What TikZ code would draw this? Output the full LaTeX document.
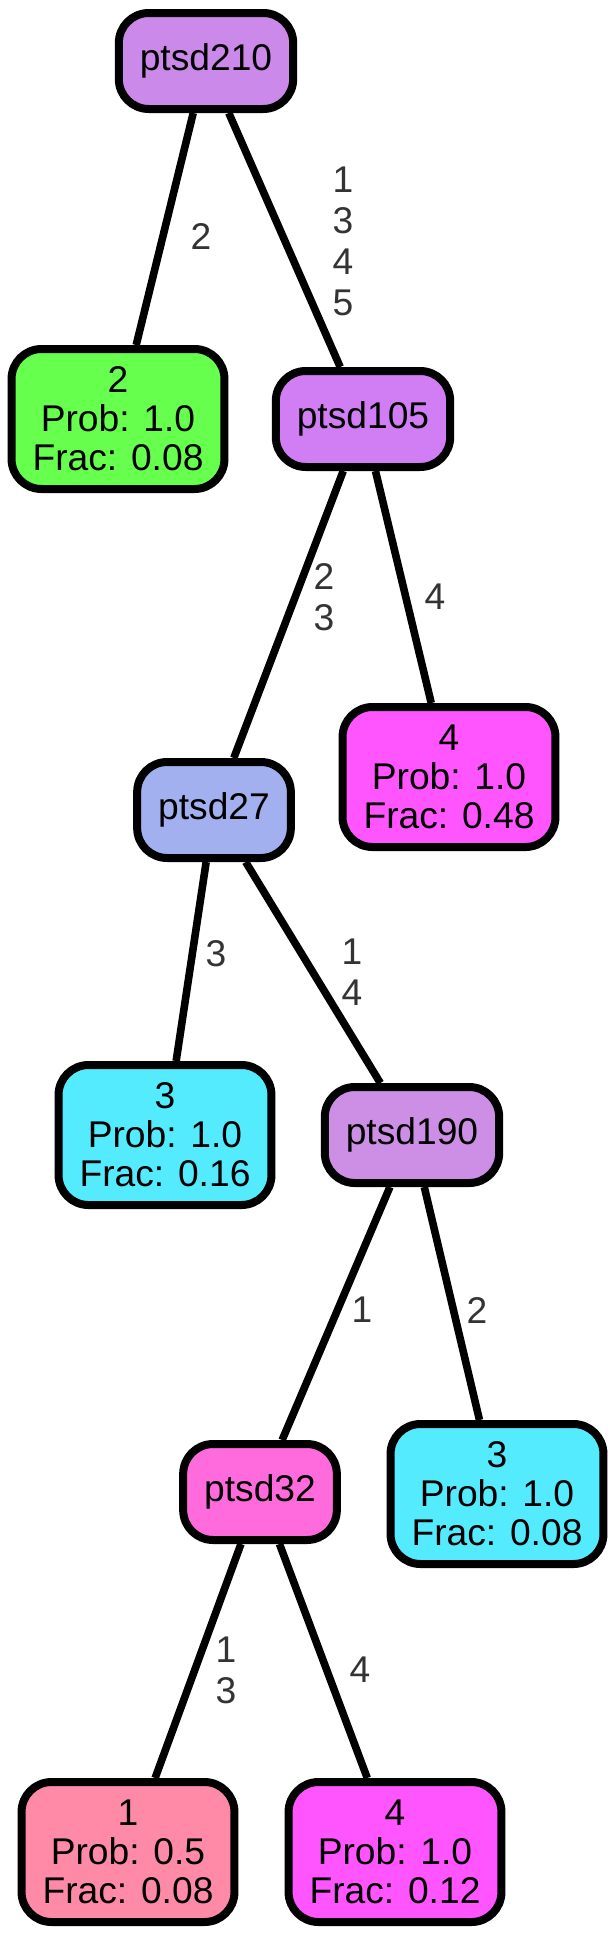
\documentclass[tikz,border=0pt]{standalone}
\usepackage{fontspec}
\setmainfont{Liberation Sans}
\definecolor{cA}{HTML}{CB89E9}
\definecolor{cB}{HTML}{D17EF5}
\definecolor{cC}{HTML}{A2B0EF}
\definecolor{cD}{HTML}{CC8FE5}
\definecolor{cE}{HTML}{FF6BDC}
\definecolor{lgreen}{HTML}{66FF4D}
\definecolor{lmag}{HTML}{FF55FF}
\definecolor{lcyan}{HTML}{55EBFF}
\definecolor{lpink}{HTML}{FF8AA7}
\tikzset{box/.style={draw,line width=4pt,rounded corners=15pt,inner xsep=10.5pt,inner ysep=0pt,align=center,font=\fontsize{18.6}{19.5}\selectfont},
	split/.style={box,minimum height=48pt},
	leaf/.style={box,minimum height=70pt},
	elab/.style={align=center,text=black!80,inner sep=0pt,font=\fontsize{18.6}{20.5}\selectfont}}

\begin{document}
\begin{tikzpicture}[x=0.5pt,y=-0.5pt]
\useasboundingbox (0,0) rectangle (614,1938);
\node[split,fill=cA] (n210) at (206,61) {ptsd210};
\node[leaf,fill=lgreen] (l2) at (118,419) {2\\Prob: 1.0\\Frac: 0.08};
\node[split,fill=cB] (n105) at (363,419) {ptsd105};
\node[split,fill=cC] (n27) at (214,810) {ptsd27};
\node[leaf,fill=lmag] (l4a) at (449,777) {4\\Prob: 1.0\\Frac: 0.48};
\node[leaf,fill=lcyan] (l3a) at (165,1135) {3\\Prob: 1.0\\Frac: 0.16};
\node[split,fill=cD] (n190) at (412,1135) {ptsd190};
\node[split,fill=cE] (n32) at (260,1492) {ptsd32};
\node[leaf,fill=lcyan] (l3b) at (497,1494) {3\\Prob: 1.0\\Frac: 0.08};
\node[leaf,fill=lpink] (l1) at (128,1852) {1\\Prob: 0.5\\Frac: 0.08};
\node[leaf,fill=lmag] (l4b) at (395,1852) {4\\Prob: 1.0\\Frac: 0.12};

\foreach \a/\b in {n210/l2,n210/n105,n105/n27,n105/l4a,n27/l3a,n27/n190,n190/n32,n190/l3b,n32/l1,n32/l4b} {
	\draw[line width=3.8pt] (\a) -- (\b);
};

% edge labels
\node[elab] (e1) at (201,237) {2};
\node[elab] (e2) at (343,241) {1\\3\\4\\5};
\node[elab] (e3) at (324,597) {2\\3};
\node[elab] (e4) at (435,597) {4};
\node[elab] (e5) at (216,954) {3};
\node[elab] (e6) at (352,972) {1\\4};
\node[elab] (e7) at (362,1310) {1};
\node[elab] (e8) at (477,1310) {2};
\node[elab] (e9) at (226,1670) {1\\3};
\node[elab] (e10) at (360,1670) {4};
\end{tikzpicture}
\end{document}
